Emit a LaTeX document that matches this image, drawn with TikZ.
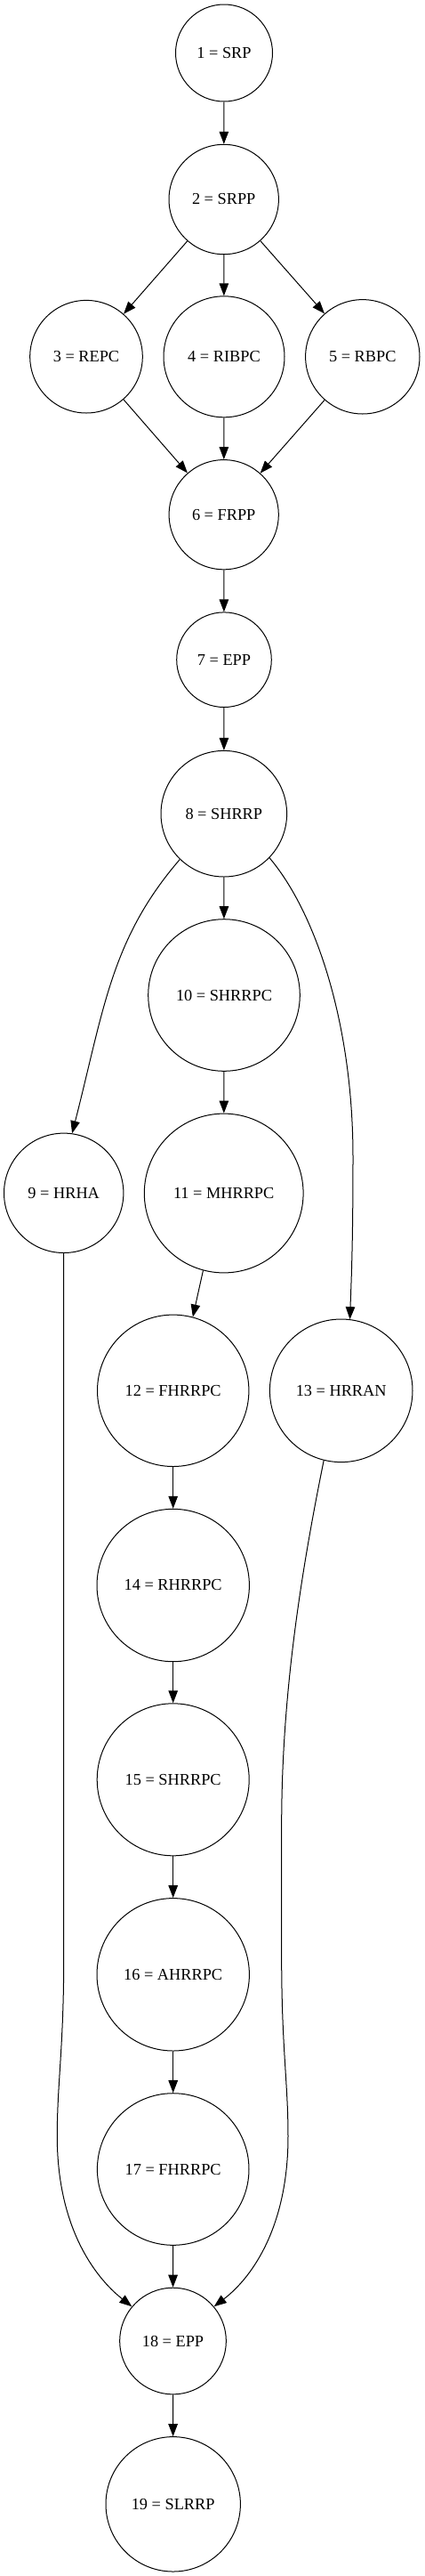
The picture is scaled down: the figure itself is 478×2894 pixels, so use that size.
\documentclass[tikz,border=0pt]{standalone}
\usepackage{fontspec}
\setmainfont{Liberation Serif}
\usetikzlibrary{arrows.meta}
\begin{document}
\begin{tikzpicture}[x=1pt,y=-1pt,
  st/.style={circle,draw,line width=1pt,inner sep=0pt,font=\fontsize{18.3}{22}\selectfont},
  edge/.style={line width=1pt,-{Triangle[length=14pt,width=10.5pt]}}]
\useasboundingbox (0,0) rectangle (478,2894);
\node[st,minimum size=109pt]   (n1)  at (252,59.5)    {1 = SRP};
\node[st,minimum size=123.4pt] (n2)  at (251.7,224)   {2 = SRPP};
\node[st,minimum size=126.6pt] (n3)  at (97,400.7)    {3 = REPC};
\node[st,minimum size=136pt]   (n4)  at (252,400.8)   {4 = RIBPC};
\node[st,minimum size=128.4pt] (n5)  at (407.8,400.8) {5 = RBPC};
\node[st,minimum size=123.2pt] (n6)  at (251.7,578.2) {6 = FRPP};
\node[st,minimum size=106.6pt] (n7)  at (252,741.2)   {7 = EPP};
\node[st,minimum size=141.6pt] (n8)  at (251.8,914.2) {8 = SHRRP};
\node[st,minimum size=170.6pt] (n10) at (252,1118)    {10 = SHRRPC};
\node[st,minimum size=134.4pt] (n9)  at (71.7,1340.3) {9 = HRHA};
\node[st,minimum size=178.8pt] (n11) at (251.7,1340.5) {11 = MHRRPC};
\node[st,minimum size=170.4pt] (n12) at (194.7,1562.3) {12 = FHRRPC};
\node[st,minimum size=160.6pt] (n13) at (383.7,1562.3) {13 = HRRAN};
\node[st,minimum size=171.4pt] (n14) at (194.7,1781)  {14 = RHRRPC};
\node[st,minimum size=171pt]   (n15) at (194.7,1999.3) {15 = SHRRPC};
\node[st,minimum size=171.4pt] (n16) at (194.7,2218.3) {16 = AHRRPC};
\node[st,minimum size=170.6pt] (n17) at (194.7,2437)  {17 = FHRRPC};
\node[st,minimum size=119.6pt] (n18) at (194.5,2630)  {18 = EPP};
\node[st,minimum size=151.4pt] (n19) at (194.7,2813.3) {19 = SLRRP};

\draw[edge] (n1) -- (n2);
\draw[edge] (n2) -- (n3);
\draw[edge] (n2) -- (n4);
\draw[edge] (n2) -- (n5);
\draw[edge] (n3) -- (n6);
\draw[edge] (n4) -- (n6);
\draw[edge] (n5) -- (n6);
\draw[edge] (n6) -- (n7);
\draw[edge] (n7) -- (n8);
\draw[edge] (n8) -- (n10);
\draw[edge] (n10) -- (n11);
\draw[edge] (n8.226) .. controls (125,1055) and (117,1133) .. (n9.82);
\draw[edge] (n8.316) .. controls (355,1025) and (397,1150) .. (397,1300)
  .. controls (397,1400) and (395,1440) .. (n13.83);
\draw[edge] (n11.255.6) -- (n12.75.2);
\draw[edge] (n12) -- (n14);
\draw[edge] (n14) -- (n15);
\draw[edge] (n15) -- (n16);
\draw[edge] (n16) -- (n17);
\draw[edge] (n17) -- (n18);
\draw[edge] (n18) -- (n19);
\draw[edge] (n9.south) -- (71.7,2200) .. controls (71.7,2300) and (64.3,2340) .. (64.3,2400)
  .. controls (64.3,2500) and (105,2557) .. (n18.140);
\draw[edge] (n13.256) .. controls (340,1760) and (316.7,1900) .. (316.7,2050) -- (316.7,2200)
  .. controls (316.7,2300) and (324,2340) .. (324,2400)
  .. controls (324,2500) and (284.7,2557.7) .. (n18.40);
\end{tikzpicture}
\end{document}
